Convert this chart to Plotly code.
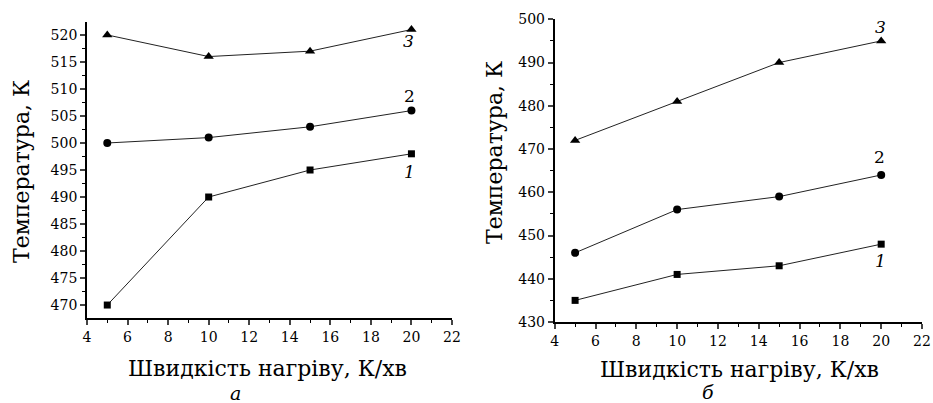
import plotly.graph_objects as go

# ---- data ----
rate = [5, 10, 15, 20]
a_s1 = [470, 490, 495, 498]
a_s2 = [500, 501, 503, 506]
a_s3 = [520, 516, 517, 521]
b_s1 = [435, 441, 443, 448]
b_s2 = [446, 456, 459, 464]
b_s3 = [472, 481, 490, 495]
x_ticks = [4, 6, 8, 10, 12, 14, 16, 18, 20, 22]
a_yticks = [470, 475, 480, 485, 490, 495, 500, 505, 510, 515, 520]
b_yticks = [430, 440, 450, 460, 470, 480, 490, 500]
series_labels = ["1", "2", "3"]
x_title = "Швидкість нагріву, К/хв"
y_title = "Температура, К"
panel_labels = ["а", "б"]

FONT = "DejaVu Serif"
W, H = 933, 403
symbols = ["square", "circle", "triangle-up"]
sizes = [7, 8, 9]

fig = go.Figure()
for sfx, data in (("", [a_s1, a_s2, a_s3]), ("2", [b_s1, b_s2, b_s3])):
    for sym, sz, ys in zip(symbols, sizes, data):
        fig.add_trace(go.Scatter(
            x=rate, y=ys, mode="lines+markers",
            xaxis="x" + sfx, yaxis="y" + sfx,
            line=dict(color="#222222", width=1),
            marker=dict(symbol=sym, size=sz, color="black"),
            showlegend=False, hoverinfo="skip", cliponaxis=False))

def px(x):
    return x / W

def py(y):
    return 1 - y / H

common_x = dict(range=[4, 22], tickvals=x_ticks, ticks="outside", ticklen=5, tickwidth=1.5,
                showline=True, linewidth=1.8, linecolor="black", showgrid=False, zeroline=False,
                automargin=False, ticklabeloverflow="allow",
                tickfont=dict(family=FONT, size=14, color="black"),
                minor=dict(dtick=1, ticks="outside", ticklen=3, tickwidth=1, tickcolor="black"))
common_y = dict(ticks="outside", ticklen=5, tickwidth=1.5, showline=True, linewidth=1.8,
                linecolor="black", showgrid=False, zeroline=False, automargin=False,
                ticklabeloverflow="allow",
                tickfont=dict(family=FONT, size=14, color="black"))

fig.update_layout(
    width=W, height=H, margin=dict(l=0, r=0, t=0, b=0, autoexpand=False),
    plot_bgcolor="white", paper_bgcolor="white",
    xaxis=dict(common_x, domain=[px(87), px(452)], anchor="y"),
    yaxis=dict(common_y, domain=[py(318), py(22)], anchor="x", range=[467.6, 522.4],
               tickvals=a_yticks,
               minor=dict(dtick=2.5, tick0=467.5, ticks="outside", ticklen=3, tickwidth=1, tickcolor="black")),
    xaxis2=dict(common_x, domain=[px(554.7), px(922)], anchor="y2"),
    yaxis2=dict(common_y, domain=[py(322), py(19.3)], anchor="x2", range=[430, 500],
                tickvals=b_yticks,
                minor=dict(dtick=5, ticks="outside", ticklen=3, tickwidth=1, tickcolor="black")),
)

def lab(text, italic):
    return f"<i>{text}</i>" if italic else text

# series labels (placed near last points)
a_pos = [(19.9, 494.6), (19.9, 508.7), (19.85, 518.8)]
b_pos = [(19.95, 444.0), (19.9, 468.2), (19.98, 498.3)]
for (xr, yr), pos in ((("x", "y"), a_pos), (("x2", "y2"), b_pos)):
    for i, (lx, ly) in enumerate(pos):
        fig.add_annotation(x=lx, y=ly, xref=xr, yref=yr, text=lab(series_labels[i], i != 1),
                           xanchor="center", yanchor="middle",
                           showarrow=False, font=dict(family=FONT, size=17, color="black"))

# axis titles and panel labels
for cx, cy in ((267, 368), (739, 369)):
    fig.add_annotation(x=px(cx), y=py(cy), xref="paper", yref="paper", text=x_title,
                       xanchor="center", yanchor="middle",
                       showarrow=False, font=dict(family=FONT, size=22, color="black"))
for cx, cy in ((21, 172), (494, 152)):
    fig.add_annotation(x=px(cx), y=py(cy), xref="paper", yref="paper", text=y_title,
                       xanchor="center", yanchor="middle",
                       textangle=-90, showarrow=False, font=dict(family=FONT, size=22, color="black"))
for (cx, cy), t in zip(((235, 393), (708, 392)), panel_labels):
    fig.add_annotation(x=px(cx), y=py(cy), xref="paper", yref="paper", text=f"<i>{t}</i>",
                       xanchor="center", yanchor="middle",
                       showarrow=False, font=dict(family=FONT, size=19, color="black"))

fig.write_html("out.html")
